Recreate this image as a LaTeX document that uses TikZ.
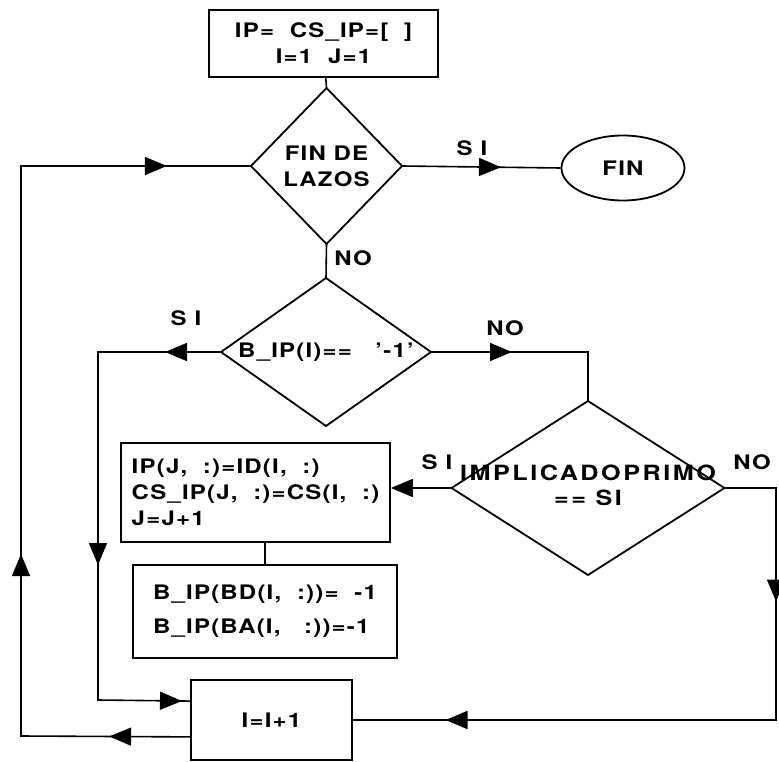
\documentclass[tikz,border=0pt]{standalone}
\usepackage{fontspec}
\setmainfont{TeX Gyre Heros}[FakeStretch=1.2,LetterSpace=6]
\usetikzlibrary{arrows.meta,shapes.geometric,decorations.markings}
\tikzset{linea/.style={line width=1.6pt},
caja/.style={draw,line width=1.8pt,inner sep=0pt,align=left},
rombo/.style={diamond,draw,line width=1.8pt,inner sep=0pt,outer sep=0pt},
ovalo/.style={ellipse,draw,line width=1.8pt,inner sep=0pt},
texto/.style={align=center},
etq/.style={inner sep=1pt},
punta/.style={postaction={decorate,decoration={markings,
 mark=at position #1 with {\arrow{Triangle[length=22pt,width=18pt]}}}}}}

\begin{document}
\begin{tikzpicture}[x=1pt,y=-1pt,font=\bfseries\fontsize{20}{26}\selectfont]
\useasboundingbox (0,0) rectangle (779,762);
% cajas y rombos
\node[caja,align=center,minimum width=229pt,minimum height=67pt] (inicio) at (323.5,43.5)
 {IP=\ \ CS\_IP=[\ \ ]\\I=1\ \ J=1};
\node[rombo,minimum width=151pt,minimum height=156pt] (fin lazos) at (326.5,166) {};
\node[texto] (fin lazos txt) at (fin lazos) {FIN DE\\LAZOS};
\node[ovalo,minimum width=123pt,minimum height=65pt] (fin) at (623,168) {FIN};
\node[rombo,minimum width=210pt,minimum height=148pt] (bip) at (326,352) {};
\node[texto] (bip txt) at (bip) {B\_IP(I)==\ \ \ '-1'};
\node[rombo,minimum width=273pt,minimum height=174pt] (impl) at (588,488) {};
\node[texto,font=\bfseries\fontsize{21}{25}\selectfont\addfontfeature{LetterSpace=12}]
 (impl txt) at (588,485) {IMPLICADOPRIMO\\== SI};
\node[caja,minimum width=269pt,minimum height=99pt] (asig) at (255.5,492.5)
 {IP(J,\ \ :)=ID(I,\ \ :)\\CS\_IP(J,\ \ :)=CS(I,\ \ :)\\J=J+1};
\node[caja,minimum width=264pt,minimum height=93pt] (bloq) at (265,611.5)
 {B\_IP(BD(I,\ \ :))=\ \ -1\\[8pt]B\_IP(BA(I,\ \ \ :))=-1};
\node[caja,minimum width=161pt,minimum height=80pt] (incr) at (271.5,720) {I=I+1};
% esquinas
\coordinate (borde int) at (98,700);
\coordinate (borde izq) at (21,736);
\coordinate (borde der) at (776,720);
% conectores
\draw[linea] (inicio) -- (fin lazos.north);
\draw[linea,punta=99pt] (fin lazos.east) -- (fin.west);
\draw[linea] (fin lazos.south) -- (bip.north);
\draw[linea,punta=56pt,punta=336pt,punta=555pt] (bip.west) -| (borde int)
 -- ([yshift=-22pt]incr.north west);
\draw[linea,punta=81pt] (bip.east) -| (impl.north);
\draw[linea,-{Triangle[length=22pt,width=18pt]}] (impl.west) -- (impl.west -| asig.east);
\draw[linea] (bloq.north) -- (bloq.north |- asig.south);
\draw[linea,punta=165pt,punta=614pt] (impl.east) -| (borde der) -- (incr.east);
\draw[linea,punta=81pt,punta=351pt,punta=885pt] ([yshift=24pt]incr.south west)
 -- (borde izq) |- (fin lazos.west);
% etiquetas
\node[etq] (si 1) at (472,148) {S I};
\node[etq] (no 1) at (353,258) {NO};
\node[etq] (si 2) at (186,318) {S I};
\node[etq] (no 2) at (505,328) {NO};
\node[etq] (si 3) at (437,462) {S I};
\node[etq] (no 3) at (752,462) {NO};
\end{tikzpicture}
\end{document}
